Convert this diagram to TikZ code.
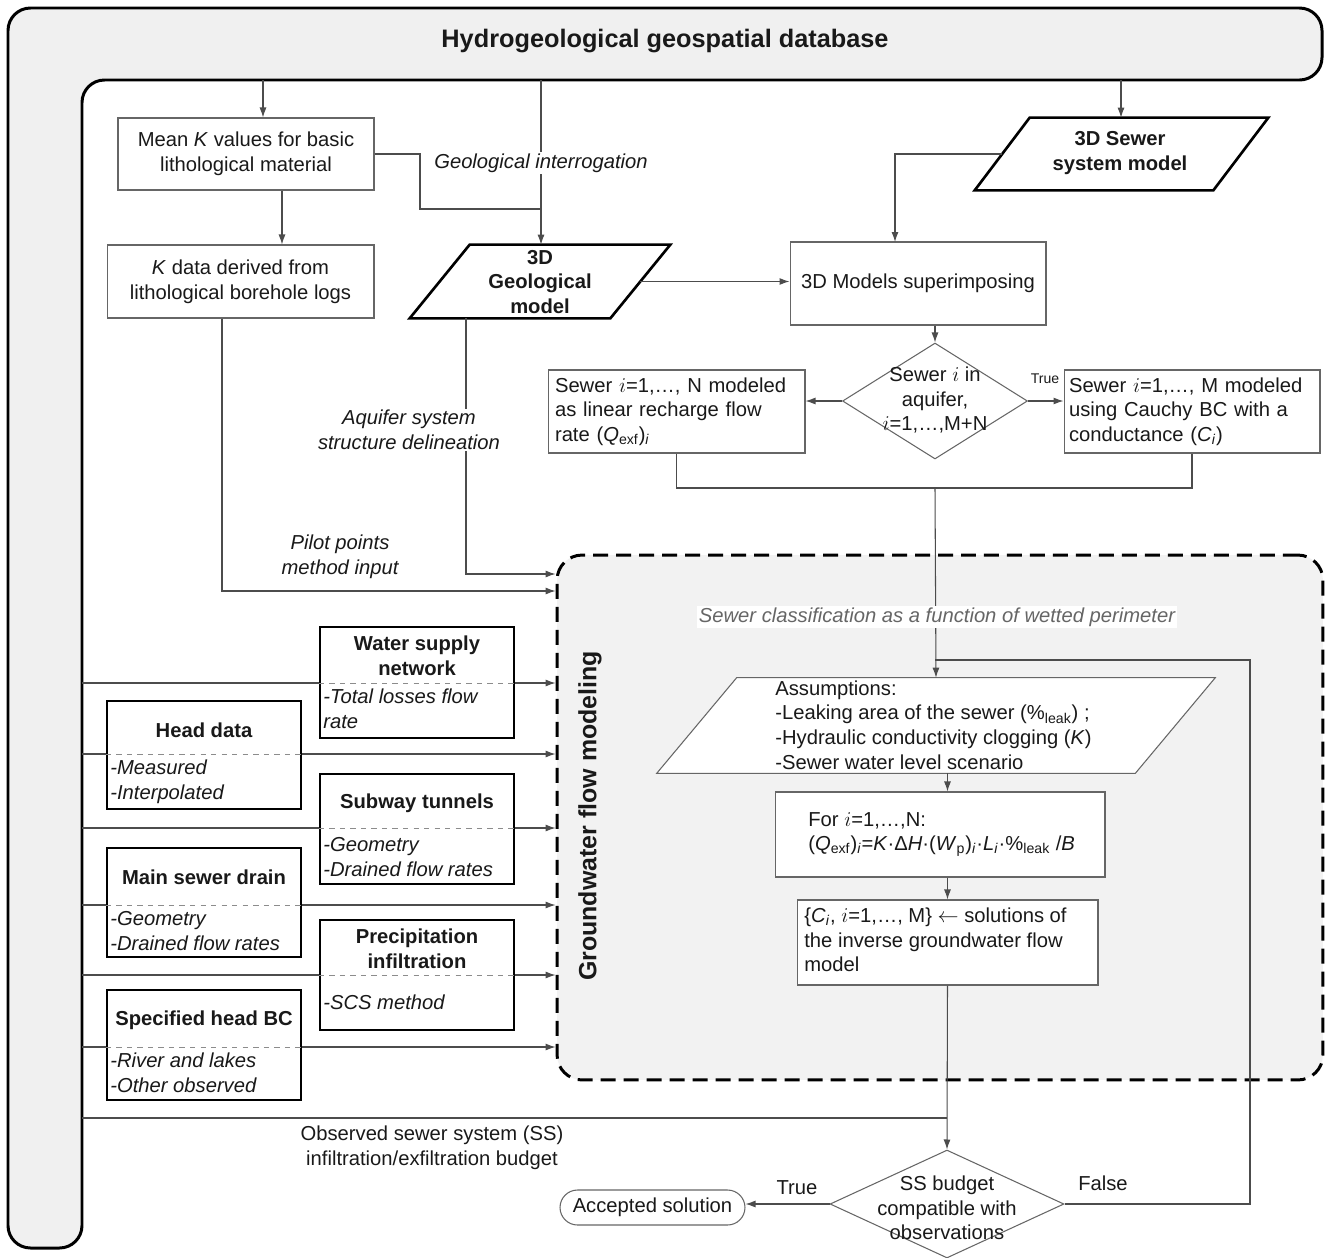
\documentclass[tikz,border=0pt]{standalone}
\usepackage{fontspec}
\setmainfont{Liberation Sans}
\usetikzlibrary{arrows.meta,shapes.geometric}

\begin{document}
\begin{tikzpicture}[x=0.02cm, y=-0.02cm,
  every node/.style={font=\fontsize{11.5}{14}\selectfont, inner sep=0pt, text=black!90},
  conn/.style={draw=black!70, line width=0.6pt},
  arr/.style={conn, -{Latex[length=2mm,width=1.4mm]}},
  thinbox/.style={rectangle, draw=black!60, line width=0.6pt, fill=white},
  thickbox/.style={rectangle, draw=black, line width=1.5pt, fill=white, minimum width=3.88cm},
  thickpara/.style={draw=black, line width=1.5pt, fill=white, line join=miter},
  thinpara/.style={draw=black!60, line width=0.6pt, fill=white},
  choice/.style={diamond, draw=black!60, line width=0.6pt, fill=white, inner sep=2pt},
  sepline/.style={draw=black!45, dashed, line width=0.5pt},
  ttl/.style={font=\fontsize{11.5}{14}\selectfont\bfseries, align=center},
  itm/.style={font=\fontsize{11.5}{14}\selectfont\itshape, align=left, anchor=west},
  note/.style={font=\fontsize{11.5}{14}\selectfont\itshape, align=center}]
\useasboundingbox (0,0) rectangle (1326,1258);

% database frame
\draw[line width=1.7pt, fill=black!6, rounded corners=0.45cm] (8,8) -- (1322,8) -- (1322,80) -- (82,80) -- (82,1248) -- (8,1248) -- cycle;
\node[font=\fontsize{14.4}{17}\selectfont\bfseries] (db) at (665,41) {Hydrogeological geospatial database};

% groundwater flow modeling region
\node[draw=black, line width=1.7pt, fill=black!5, dash pattern=on 0.3cm off 0.16cm, rounded corners=0.5cm, minimum width=15.32cm, minimum height=10.5cm] (gwm) at (940,817.5) {};
\node[rotate=90, font=\fontsize{14.2}{16}\selectfont\bfseries] (gwl) at (590,816) {Groundwater flow modeling};

% flow nodes
\node[thinbox, minimum width=5.12cm, minimum height=1.44cm, align=center] (meank) at (246,154) {Mean \textit{K} values for basic\\lithological material};
\node[thinbox, minimum width=5.34cm, minimum height=1.46cm, align=center] (kdata) at (240.5,281.5) {\textit{K} data derived from\\lithological borehole logs};
\node[minimum width=5.2cm, minimum height=1.46cm] (geo) at (540,281.5) {};
\draw[thickpara] ([xshift=1.2cm]geo.north west) -- (geo.north east) -- ([xshift=-1.2cm]geo.south east) -- (geo.south west) -- cycle;
\node[ttl] (geot) at (540,282) {3D\\Geological\\model};
\node[minimum width=5.86cm, minimum height=1.44cm] (sewer) at (1121.5,154) {};
\draw[thickpara] ([xshift=1.1cm]sewer.north west) -- (sewer.north east) -- ([xshift=-1.1cm]sewer.south east) -- (sewer.south west) -- cycle;
\node[ttl] (sewert) at (1120,153) {3D Sewer\\system model};
\node[thinbox, minimum width=5.12cm, minimum height=1.66cm] (models) at (918,283.5) {3D Models superimposing};
\node[choice, minimum width=3.7cm, minimum height=2.32cm] (aqui) at (935,401) {};
\node[align=center] (aquit) at (935,400) {Sewer $i$ in\\aquifer,\\$i$=1,…,M+N};
\node[thinbox, minimum width=5.14cm, minimum height=1.66cm, align=left, text width=4.86cm] (linbox) at (676.5,411.5) {Sewer $i$=1,…, N modeled\\as linear recharge flow\\rate (\textit{Q}\textsubscript{exf})\textsubscript{\textit{i}}};
\node[thinbox, minimum width=5.12cm, minimum height=1.66cm, align=left, text width=4.92cm] (cauchy) at (1192,411.5) {Sewer $i$=1,…, M modeled\\using Cauchy BC with a\\conductance (\textit{C}\textsubscript{\textit{i}})};
\node[minimum width=11.16cm, minimum height=1.9cm] (assum) at (936,725.5) {};
\draw[thinpara] ([xshift=1.6cm]assum.north west) -- (assum.north east) -- ([xshift=-1.6cm]assum.south east) -- (assum.south west) -- cycle;
\node[align=left, anchor=west] (assumt) at (775,725) {Assumptions:\\-Leaking area of the sewer (\%\textsubscript{leak}) ;\\-Hydraulic conductivity clogging (\textit{K})\\-Sewer water level scenario};
\node[thinbox, minimum width=6.6cm, minimum height=1.7cm] (forbox) at (940,834.5) {};
\node[align=left, anchor=west] (fort) at (808,834.5) {For $i$=1,…,N:\\(\textit{Q}\textsubscript{exf})\textsubscript{\textit{i}}=\textit{K}·Δ\textit{H}·(\textit{W}\textsubscript{p})\textsubscript{\textit{i}}·\textit{L}\textsubscript{\textit{i}}·\%\textsubscript{leak} /\textit{B}};
\node[thinbox, minimum width=6.02cm, minimum height=1.7cm] (cbox) at (947.5,942.5) {};
\node[align=left, anchor=west] (cboxt) at (804,940) {\{\textit{C}\textsubscript{\textit{i}}, $i$=1,…, M\} $\leftarrow$ solutions of\\the inverse groundwater flow\\model};
\node[choice, minimum width=4.68cm, minimum height=2.16cm] (budget) at (947,1204) {};
\node[align=center] (budgett) at (947,1208) {SS budget\\compatible with\\observations};
\node[thinbox, rounded corners=0.35cm, minimum width=3.7cm, minimum height=0.7cm] (acc) at (652.5,1207.5) {Accepted solution};

% connectors
\coordinate (bar1) at (263,80);
\coordinate (bar2) at (541,80);
\coordinate (bar3) at (1121,80);
\coordinate (gj) at (420,209);
\coordinate (sewerin) at (895,242);
\coordinate (lrjoin) at (935,488);
\coordinate (pilot) at (222,591);
\coordinate (aqs) at (466,574);
\coordinate (obs) at (82,1118);
\coordinate (fb) at (1250,660);
\draw[arr] (bar1) -- (bar1 |- meank.north);
\draw[arr] (bar2) -- (bar2 |- geo.north);
\draw[arr] (bar3) -- (bar3 |- sewer.north);
\draw[conn] (meank.east) -| (gj) -- (gj -| bar2);
\draw[arr] ([xshift=0.72cm]meank.south) -- ([xshift=0.72cm]meank.south |- kdata.north);
\draw[arr] ([xshift=-0.6cm]geo.east) -- (geo.east -| models.west);
\draw[arr] ([xshift=0.55cm]sewer.west) -| (sewerin);
\draw[arr] (models.south -| aqui) -- (aqui.north);
\draw[arr] (aqui.west) -- (aqui.west -| linbox.east);
\draw[arr] (aqui.east) -- (aqui.east -| cauchy.west);
\draw[conn] (linbox.south) -- (linbox.south |- lrjoin) -- (cauchy.south |- lrjoin) -- (cauchy.south);
\draw[arr] (lrjoin) -- (assum.north);
\draw[arr] (kdata.south -| pilot) -- (pilot) -- (pilot -| gwm.west);
\draw[arr] (geo.south -| aqs) -- (aqs) -- (aqs -| gwm.west);
\draw[arr] (assum.south -| cbox) -- (forbox.north -| cbox);
\draw[arr] (forbox.south -| cbox) -- (cbox.north);
\draw[arr] (cbox.south) -- (budget.north);
\draw[conn] (obs) -- (obs -| budget);
\draw[arr] (budget.west) -- (budget.west -| acc.east);
\draw[conn] (budget.east) -| (fb) -- (fb -| lrjoin);

% labels
\node[note, fill=white, inner sep=1pt] (geoint) at (541,163) {Geological interrogation};
\node[note, fill=white, inner sep=1pt] (aqst) at (409,430) {Aquifer system\\structure delineation};
\node[note] (pilott) at (340,557) {Pilot points\\method input};
\node[note, fill=white, inner sep=1pt, text=black!60] (sclass) at (937,617) {Sewer classification as a function of wetted perimeter};
\node[font=\fontsize{8}{9}\selectfont] (truea) at (1045,379) {True};
\node[align=center] (obst) at (432,1148) {Observed sewer system (SS)\\infiltration/exfiltration budget};
\node (truet) at (797,1188) {True};
\node (falset) at (1103,1183) {False};

% input data
\coordinate (in1) at (82,683);
\coordinate (in2) at (82,754);
\coordinate (in3) at (82,828);
\coordinate (in4) at (82,905);
\coordinate (in5) at (82,975);
\coordinate (in6) at (82,1047);
\draw[arr] (in1) -- (in1 -| gwm.west);
\draw[arr] (in2) -- (in2 -| gwm.west);
\draw[arr] (in3) -- (in3 -| gwm.west);
\draw[arr] (in4) -- (in4 -| gwm.west);
\draw[arr] (in5) -- (in5 -| gwm.west);
\draw[arr] (in6) -- (in6 -| gwm.west);

\node[thickbox, minimum height=2.22cm] (wsn) at (417,682.5) {};
\draw[sepline] (wsn.west |- in1) -- (wsn.east |- in1);
\node[ttl] (wsnt) at (417,656) {Water supply\\network};
\node[itm] (wsni) at (323,709) {-Total losses flow\\rate};

\node[thickbox, minimum height=2.16cm] (head) at (204,755) {};
\draw[sepline] (head.west |- in2) -- (head.east |- in2);
\node[ttl] (headt) at (204,730) {Head data};
\node[itm] (headi) at (110,781.5) {-Measured\\-Interpolated};

\node[thickbox, minimum height=2.2cm] (sub) at (417,829) {};
\draw[sepline] (sub.west |- in3) -- (sub.east |- in3);
\node[ttl] (subt) at (417,803) {Subway tunnels};
\node[itm] (subi) at (323,857) {-Geometry\\-Drained flow rates};

\node[thickbox, minimum height=2.18cm] (msd) at (204,902.5) {};
\draw[sepline] (msd.west |- in4) -- (msd.east |- in4);
\node[ttl] (msdt) at (204,877) {Main sewer drain};
\node[itm] (msdi) at (110,931) {-Geometry\\-Drained flow rates};

\node[thickbox, minimum height=2.2cm] (prec) at (417,975) {};
\draw[sepline] (prec.west |- in5) -- (prec.east |- in5);
\node[ttl] (prect) at (417,949) {Precipitation\\infiltration};
\node[itm] (preci) at (323,1002) {-SCS method};

\node[thickbox, minimum height=2.2cm] (shb) at (204,1045) {};
\draw[sepline] (shb.west |- in6) -- (shb.east |- in6);
\node[ttl] (shbt) at (204,1020) {Specified head BC};
\node[itm] (shbi) at (110,1072.5) {-River and lakes\\-Other observed};
\end{tikzpicture}
\end{document}
